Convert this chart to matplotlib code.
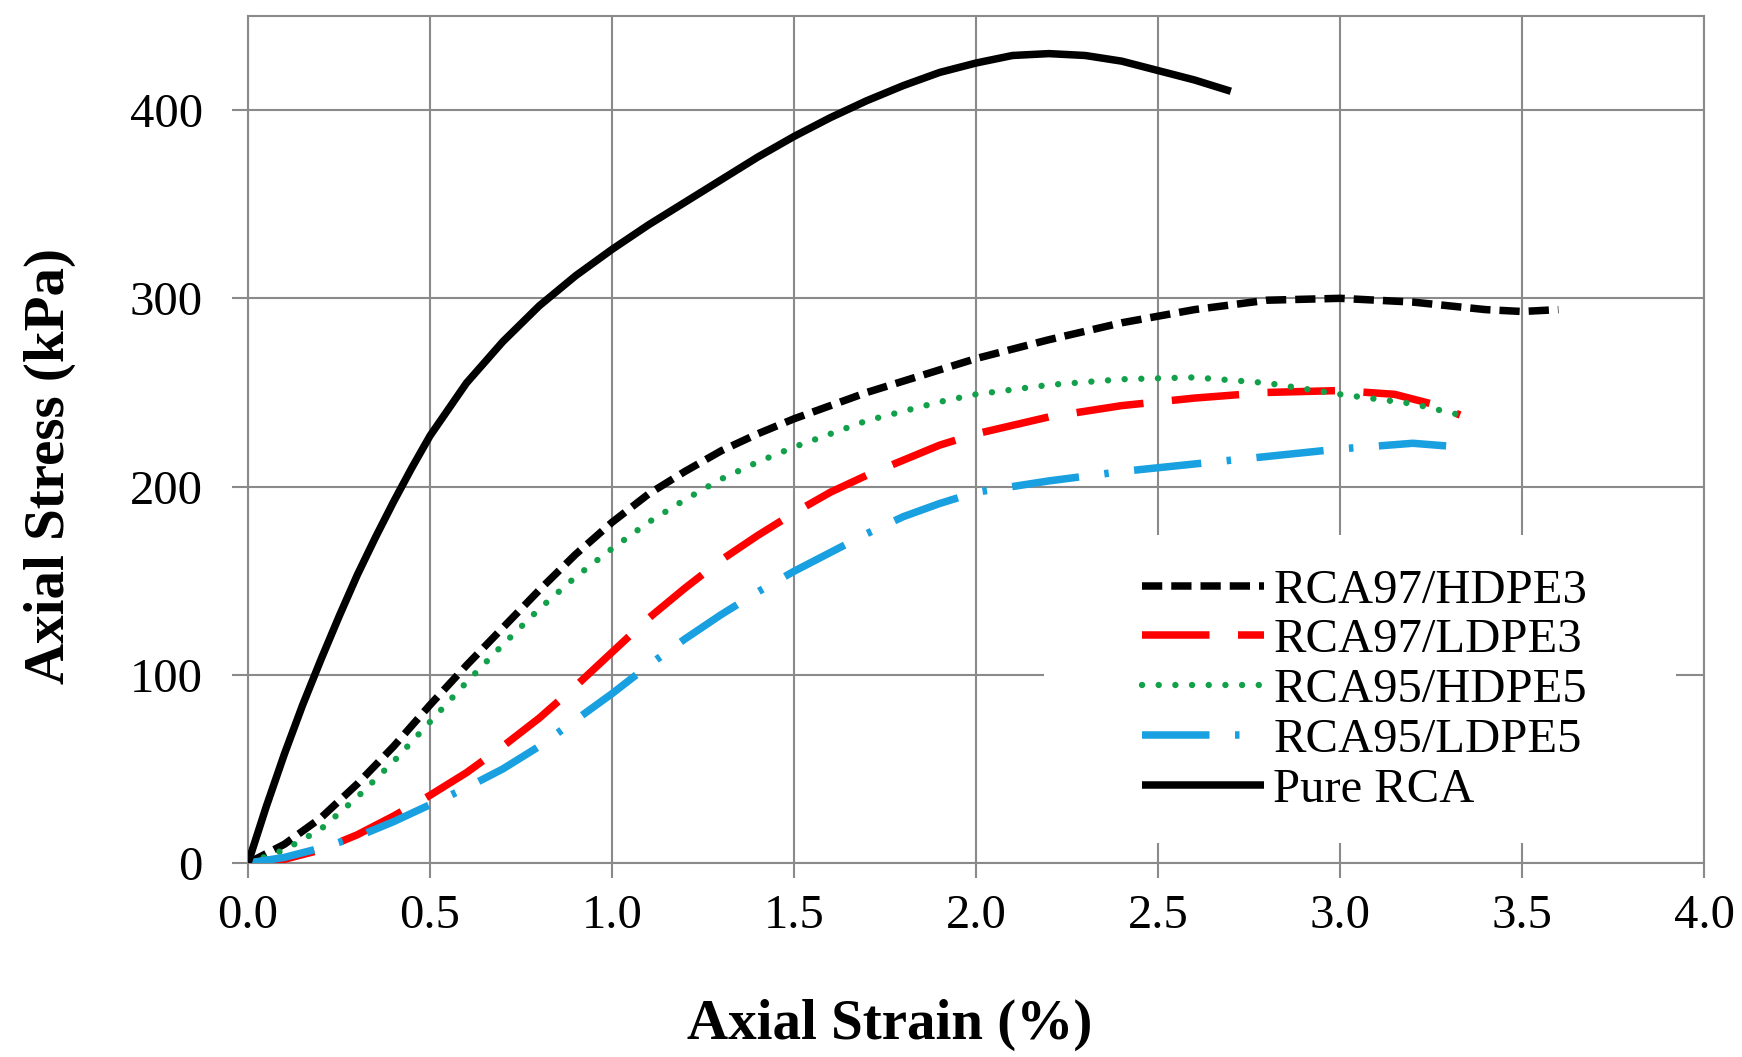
import matplotlib
matplotlib.use("Agg")
import matplotlib.pyplot as plt
from matplotlib.patches import Rectangle

# ---------------- data ----------------
labels = ["RCA97/HDPE3", "RCA97/LDPE3", "RCA95/HDPE5", "RCA95/LDPE5", "Pure RCA"]

hdpe3_x = [0.0, 0.1, 0.2, 0.3, 0.4, 0.5, 0.6, 0.7, 0.8, 0.9, 1.0, 1.1, 1.2, 1.3, 1.4,
           1.5, 1.6, 1.7, 1.8, 1.9, 2.0, 2.2, 2.4, 2.6, 2.8, 3.0, 3.2, 3.4, 3.5, 3.6]
hdpe3_y = [0, 10, 24, 42, 62, 84, 105, 125, 145, 164, 181, 196, 208, 219, 228,
           236, 243, 250, 256, 262, 268, 278, 287, 294, 299, 300, 298, 294, 293, 294]

ldpe3_x = [0.0, 0.1, 0.2, 0.3, 0.4, 0.5, 0.6, 0.7, 0.8, 0.9, 1.0, 1.1, 1.2, 1.3, 1.4,
           1.5, 1.6, 1.7, 1.8, 1.9, 2.0, 2.2, 2.4, 2.6, 2.8, 3.0, 3.15, 3.25, 3.33]
ldpe3_y = [0, 2, 7, 15, 25, 36, 48, 62, 77, 94, 112, 130, 146, 161, 174,
           186, 197, 206, 214, 222, 228, 237, 243, 247, 250, 251, 249, 244, 238]

hdpe5_x = [0.0, 0.1, 0.2, 0.3, 0.4, 0.5, 0.6, 0.7, 0.8, 0.9, 1.0, 1.1, 1.2, 1.3, 1.4,
           1.5, 1.6, 1.7, 1.8, 1.9, 2.0, 2.2, 2.4, 2.6, 2.8, 3.0, 3.2, 3.33]
hdpe5_y = [0, 7, 18, 35, 54, 75, 96, 116, 135, 152, 167, 181, 193, 204, 213,
           221, 228, 235, 240, 245, 249, 254, 257, 258, 255, 249, 244, 238]

ldpe5_x = [0.0, 0.1, 0.2, 0.3, 0.4, 0.5, 0.6, 0.7, 0.8, 0.9, 1.0, 1.1, 1.2, 1.3, 1.4,
           1.5, 1.6, 1.7, 1.8, 1.9, 2.0, 2.2, 2.4, 2.6, 2.8, 3.0, 3.2, 3.33]
ldpe5_y = [0, 3, 8, 14, 22, 31, 40, 50, 62, 76, 90, 105, 119, 132, 144,
           155, 165, 175, 184, 191, 197, 203, 208, 212, 216, 220, 223, 221]

pure_x = [0.0, 0.05, 0.1, 0.15, 0.2, 0.25, 0.3, 0.35, 0.4, 0.45, 0.5, 0.6, 0.7, 0.8,
          0.9, 1.0, 1.1, 1.2, 1.3, 1.4, 1.5, 1.6, 1.7, 1.8, 1.9, 2.0, 2.1, 2.2, 2.3,
          2.4, 2.5, 2.6, 2.7]
pure_y = [0, 30, 58, 84, 108, 131, 153, 173, 192, 210, 227, 255, 277, 296,
          312, 326, 339, 351, 363, 375, 386, 396, 405, 413, 420, 425, 429, 430, 429,
          426, 421, 416, 410]

x_ticks = [0.0, 0.5, 1.0, 1.5, 2.0, 2.5, 3.0, 3.5, 4.0]
y_ticks = [0, 100, 200, 300, 400]

# ---------------- figure ----------------
plt.rcParams["font.family"] = ["Liberation Serif", "DejaVu Serif"]
fig = plt.figure(figsize=(17.42, 10.57), dpi=100)
ax = fig.add_axes([0.1424, 0.1835, 0.9782 - 0.1424, 0.9849 - 0.1835])

lw = 5.4
common = dict(solid_joinstyle="round", dash_joinstyle="round", zorder=3)
ax.plot(hdpe3_x, hdpe3_y, color="black", lw=lw, dashes=(2.7, 1.2),
        label=labels[0], **common)
ax.plot(ldpe3_x, ldpe3_y, color="#ff0000", lw=lw, dashes=(9, 3.8),
        label=labels[1], **common)
ax.plot(hdpe5_x, hdpe5_y, color="#12a04a", lw=4.6, dashes=(0.01, 2.6),
        dash_capstyle="round", label=labels[2], **common)
ax.plot(ldpe5_x, ldpe5_y, color="#18a0e0", lw=lw, dashes=(9, 3.4, 0.6, 3.4),
        label=labels[3], **common)
ax.plot(pure_x, pure_y, color="black", lw=lw, solid_capstyle="butt",
        label=labels[4], **common)

ax.set_xlim(0, 4.0)
ax.set_ylim(0, 450)
ax.set_xticks(x_ticks)
ax.set_xticklabels([f"{v:.1f}" for v in x_ticks])
ax.set_yticks(y_ticks)
ax.set_yticklabels([str(v) for v in y_ticks])

gray = "#8a8a8a"
ax.set_axisbelow(True)
ax.grid(True, color=gray, lw=1.5)
for s in ax.spines.values():
    s.set_color(gray)
    s.set_linewidth(1.5)
ax.tick_params(axis="x", direction="out", length=11, width=1.5, color=gray,
               labelsize=35, pad=11)
ax.tick_params(axis="y", direction="out", length=11.5, width=1.5, color=gray,
               labelsize=35, pad=21)

ax.set_xlabel("Axial Strain (%)", fontsize=41, fontweight="bold")
ax.set_ylabel("Axial Stress (kPa)", fontsize=41, fontweight="bold")
ax.xaxis.set_label_coords(0.441, -0.16)
ax.yaxis.set_label_coords(-0.118, 0.469)

# white legend background (as in the reference, covering the gridlines)
ax.add_patch(Rectangle((0.547, 0.024), 0.434, 0.363, transform=ax.transAxes,
                       facecolor="white", edgecolor="none", zorder=1))

leg = ax.legend(loc="center left", bbox_to_anchor=(0.614, 0.204), frameon=False,
                fontsize=35, handlelength=2.5, handletextpad=0.2,
                labelspacing=0.12, borderpad=0, borderaxespad=0)
leg.set_zorder(4)

fig.savefig("out.png", dpi=100)
